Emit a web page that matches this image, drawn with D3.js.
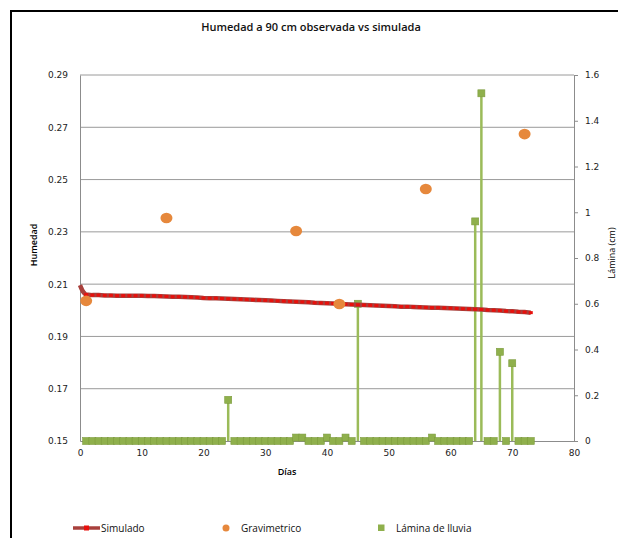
<!DOCTYPE html>
<html>
<head>
<meta charset="utf-8">
<script src="https://cdn.jsdelivr.net/npm/d3@7"></script>
<style>
  body { margin: 0; background: #fff; }
  text { font-family: "DejaVu Sans", sans-serif; }
</style>
</head>
<body>
<svg id="chart" width="618" height="538"></svg>
<script>
// simulated moisture (Simulado)
const simDays = [0, 0.25, 0.5, 0.75, 1, 2, 3, 4, 5, 6, 7, 8, 9, 10, 11, 12, 13, 14, 15, 16, 17, 18, 19, 20,
  21, 22, 23, 24, 25, 26, 27, 28, 29, 30, 31, 32, 33, 34, 35, 36, 37, 38, 39, 40, 41, 42, 43, 44, 45,
  46, 47, 48, 49, 50, 51, 52, 53, 54, 55, 56, 57, 58, 59, 60, 61, 62, 63, 64, 65, 66, 67, 68, 69, 70,
  71, 72, 73];
const simValues = [0.2096, 0.2082, 0.2071, 0.2064, 0.2060, 0.2058, 0.2058, 0.2057, 0.2057, 0.2056,
  0.2056, 0.2056, 0.2056, 0.2056, 0.2055, 0.2055, 0.2054, 0.2053, 0.2052, 0.2052, 0.2051, 0.2050,
  0.2049, 0.2047, 0.2046, 0.2046, 0.2045, 0.2044, 0.2043, 0.2042, 0.2041, 0.2040, 0.2039, 0.2038,
  0.2037, 0.2036, 0.2035, 0.2034, 0.2033, 0.2032, 0.2031, 0.2029, 0.2028, 0.2027, 0.2026, 0.2024,
  0.2023, 0.2022, 0.2021, 0.2020, 0.2019, 0.2018, 0.2017, 0.2016, 0.2015, 0.2014, 0.2014, 0.2013,
  0.2012, 0.2011, 0.2010, 0.2010, 0.2009, 0.2008, 0.2007, 0.2006, 0.2005, 0.2004, 0.2003, 0.2001,
  0.2000, 0.1999, 0.1997, 0.1996, 0.1994, 0.1993, 0.1991];

// observed moisture (Gravimetrico)
const gravDays = [1, 14, 35, 42, 56, 72];
const gravValues = [0.2036, 0.2353, 0.2303, 0.2024, 0.2464, 0.2674];

// rainfall depth (Lámina de lluvia), days 1..73
const rainDays = d3.range(1, 74);
const rainValues = [
  0, 0, 0, 0, 0, 0, 0, 0, 0, 0,
  0, 0, 0, 0, 0, 0, 0, 0, 0, 0,
  0, 0, 0, 0.18, 0, 0, 0, 0, 0, 0,
  0, 0, 0, 0, 0.015, 0.015, 0, 0, 0, 0.015,
  0, 0, 0.015, 0, 0.6, 0, 0, 0, 0, 0,
  0, 0, 0, 0, 0, 0, 0.015, 0, 0, 0,
  0, 0, 0, 0.96, 1.52, 0, 0, 0.39, 0, 0.34,
  0, 0, 0];

const xTicks = [0, 10, 20, 30, 40, 50, 60, 70, 80];
const yLeftTicks = [0.15, 0.17, 0.19, 0.21, 0.23, 0.25, 0.27, 0.29];
const yRightTicks = [0, 0.2, 0.4, 0.6, 0.8, 1, 1.2, 1.4, 1.6];

const svg = d3.select('#chart');
const plotL = 80, plotR = 574, plotT = 75, plotB = 441;

const x = d3.scaleLinear().domain([0, 80]).range([plotL, plotR]);
const yL = d3.scaleLinear().domain([0.15, 0.29]).range([plotB, plotT]);
const yR = d3.scaleLinear().domain([0, 1.6]).range([plotB, plotT]);

svg.append('rect').attr('width', 618).attr('height', 538).attr('fill', '#fff');
svg.append('rect')
  .attr('x', 11).attr('y', 11).attr('width', 640).attr('height', 560)
  .attr('fill', 'none').attr('stroke', '#000').attr('stroke-width', 2);

svg.append('text')
  .attr('x', 311).attr('y', 31).attr('text-anchor', 'middle')
  .style('font-family', '"Open Sans", sans-serif').style('font-size', '11px')
  .style('font-weight', 600).attr('fill', '#111')
  .text('Humedad a 90 cm observada vs simulada');

// gridlines
svg.append('g').selectAll('line')
  .data(yLeftTicks.slice(1))
  .join('line')
  .attr('x1', plotL).attr('x2', plotR)
  .attr('y1', d => yL(d)).attr('y2', d => yL(d))
  .attr('stroke', '#9a9a9a').attr('stroke-width', 1);

// axes
const axisStyle = g => {
  g.select('.domain').attr('stroke', '#8c8c8c');
  g.selectAll('.tick line').attr('stroke', '#8c8c8c');
  g.selectAll('.tick text').style('font-size', '9px').attr('fill', '#222')
    .style('font-family', '"DejaVu Sans", sans-serif');
};

svg.append('g')
  .attr('transform', `translate(0,${plotB})`)
  .call(d3.axisBottom(x).tickValues(xTicks).tickSize(0).tickPadding(9).tickFormat(d3.format('d')))
  .call(axisStyle);

svg.append('g')
  .attr('transform', `translate(${plotL},0)`)
  .call(d3.axisLeft(yL).tickValues(yLeftTicks).tickSize(0).tickPadding(12).tickFormat(d3.format('.2f')))
  .call(axisStyle);

svg.append('g')
  .attr('transform', `translate(${plotR},0)`)
  .call(d3.axisRight(yR).tickValues(yRightTicks).tickSize(4).tickSizeOuter(0).tickPadding(7)
    .tickFormat(d => d === 0 || d === 1 ? d3.format('d')(d) : d3.format('.1f')(d)))
  .call(axisStyle);

// axis titles
const titleFont = '"Open Sans", sans-serif';
svg.append('text')
  .attr('transform', 'translate(37,245) rotate(-90)').attr('text-anchor', 'middle')
  .style('font-family', titleFont).style('font-size', '9px').style('font-weight', 600)
  .text('Humedad');
svg.append('text')
  .attr('x', 287).attr('y', 475).attr('text-anchor', 'middle')
  .style('font-family', titleFont).style('font-size', '9px').style('font-weight', 600)
  .text('Días');
svg.append('text')
  .attr('transform', 'translate(615,253) rotate(-90)').attr('text-anchor', 'middle')
  .style('font-family', titleFont).style('font-size', '9px')
  .text('Lámina (cm)');

// rainfall series: baseline runs joined, rain days drawn as vertical stems
const rain = rainDays.map((d, i) => [d, rainValues[i]]);
const isDry = d => d[1] < 0.1;
svg.append('path')
  .datum(rain)
  .attr('d', d3.line().defined(isDry).x(d => x(d[0])).y(d => yR(d[1])))
  .attr('fill', 'none').attr('stroke', '#9bbb59').attr('stroke-width', 2.5);
svg.append('g').selectAll('line')
  .data(rain.filter(d => !isDry(d)))
  .join('line')
  .attr('x1', d => x(d[0])).attr('x2', d => x(d[0]))
  .attr('y1', yR(0)).attr('y2', d => yR(d[1]))
  .attr('stroke', '#9bbb59').attr('stroke-width', 2.5);
svg.append('g').selectAll('rect')
  .data(rain)
  .join('rect')
  .attr('x', d => x(d[0]) - 3.5).attr('y', d => yR(d[1]) - 3.5)
  .attr('width', 7).attr('height', 7)
  .attr('fill', '#8fb04c').attr('stroke', '#7d9c3e').attr('stroke-width', 0.6);

// simulated series
const sim = simDays.map((d, i) => [d, simValues[i]]);
svg.append('path')
  .datum(sim)
  .attr('d', d3.line().x(d => x(d[0])).y(d => yL(d[1])))
  .attr('fill', 'none').attr('stroke', '#a8403c').attr('stroke-width', 4.5);
svg.append('g').selectAll('rect')
  .data(sim.slice(4))
  .join('rect')
  .attr('x', d => x(d[0]) - 2).attr('y', d => yL(d[1]) - 1.5)
  .attr('width', 4).attr('height', 3)
  .attr('fill', '#e8100c');

// gravimetric observations
svg.append('g').selectAll('ellipse')
  .data(gravDays.map((d, i) => [d, gravValues[i]]))
  .join('ellipse')
  .attr('cx', d => x(d[0])).attr('cy', d => yL(d[1]))
  .attr('rx', 6).attr('ry', 5.3)
  .attr('fill', '#e6883c');

// legend
const legY = 532;
const legFont = g => g.style('font-family', titleFont).style('font-size', '10px').attr('fill', '#111');
svg.append('line').attr('x1', 73).attr('x2', 100).attr('y1', legY - 4).attr('y2', legY - 4)
  .attr('stroke', '#a8403c').attr('stroke-width', 3.5);
svg.append('rect').attr('x', 84).attr('y', legY - 6.5).attr('width', 5).attr('height', 5).attr('fill', '#e8100c');
svg.append('text').attr('x', 101).attr('y', legY).text('Simulado').call(legFont);
svg.append('circle').attr('cx', 226).attr('cy', legY - 4).attr('r', 3.5).attr('fill', '#e6883c');
svg.append('text').attr('x', 241).attr('y', legY).text('Gravimetrico').call(legFont);
svg.append('rect').attr('x', 378).attr('y', legY - 7.5).attr('width', 6.5).attr('height', 6.5).attr('fill', '#8fb04c');
svg.append('text').attr('x', 396).attr('y', legY).text('Lámina de lluvia').call(legFont);
</script>
</body>
</html>
